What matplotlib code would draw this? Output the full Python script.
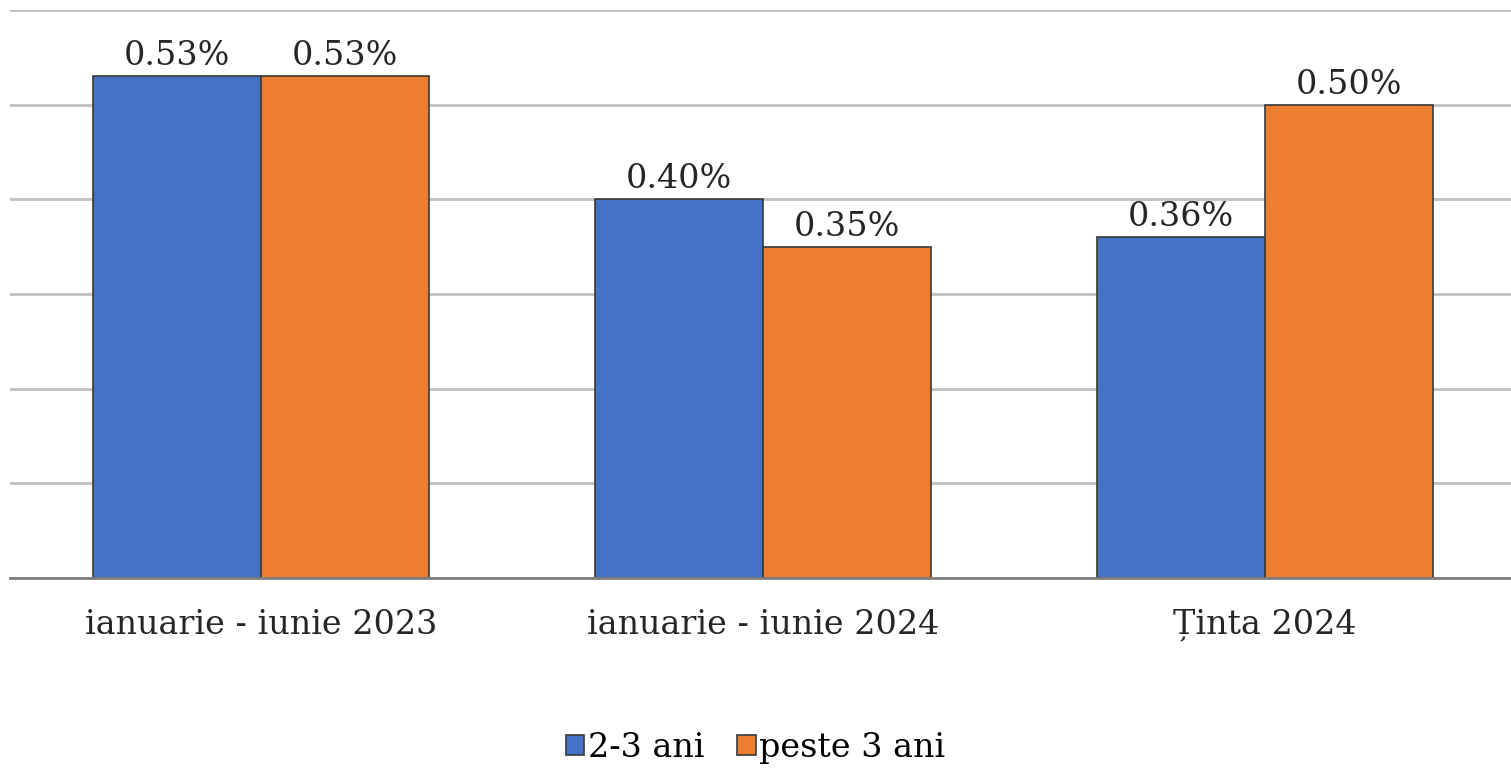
import numpy as np
import matplotlib.pyplot as plt

categories = ["ianuarie - iunie 2023", "ianuarie - iunie 2024", "Ținta 2024"]
series_names = ["2-3 ani", "peste 3 ani"]
val_2_3 = [0.53, 0.40, 0.36]
val_peste3 = [0.53, 0.35, 0.50]

plt.rcParams["font.family"] = ["DejaVu Serif"]

fig = plt.figure(figsize=(15.11, 7.72), dpi=100)
ax = fig.add_axes([10 / 1511, 194 / 772, 1506 / 1511, 568 / 772])

x = np.arange(len(categories))
w = 0.334
b1 = ax.bar(x - w / 2, val_2_3, w, color="#4472C4", edgecolor="#3a3a3a",
            linewidth=1.2, label=series_names[0], zorder=3)
b2 = ax.bar(x + w / 2, val_peste3, w, color="#ED7D31", edgecolor="#3a3a3a",
            linewidth=1.2, label=series_names[1], zorder=3)
for bars in (b1, b2):
    ax.bar_label(bars, labels=[f"{v:.2f}%" for v in bars.datavalues],
                 padding=3, fontsize=24, color="#262626")

ax.set_xlim(-0.5, 2.5)
ax.set_ylim(0, 0.6)
ax.set_yticks(np.arange(0, 0.61, 0.1))
ax.yaxis.grid(True, color="#c0c0c0", linewidth=2, zorder=0)
ax.set_yticklabels([])
ax.tick_params(axis="y", length=0)
ax.set_xticks(x)
ax.set_xticklabels(categories, fontsize=24, color="#262626")
ax.tick_params(axis="x", length=0, pad=22)
for s in ["top", "right", "left"]:
    ax.spines[s].set_visible(False)
ax.spines["bottom"].set_color("#7f7f7f")
ax.spines["bottom"].set_linewidth(2)
ax.spines["bottom"].set_zorder(4)

fig.legend(loc="center", bbox_to_anchor=(0.5, 1 - 748 / 772), ncol=2,
           frameon=False, fontsize=24, handlelength=0.55, handleheight=0.55,
           handletextpad=0.1, columnspacing=1.0)

fig.savefig("out.png", dpi=100)
